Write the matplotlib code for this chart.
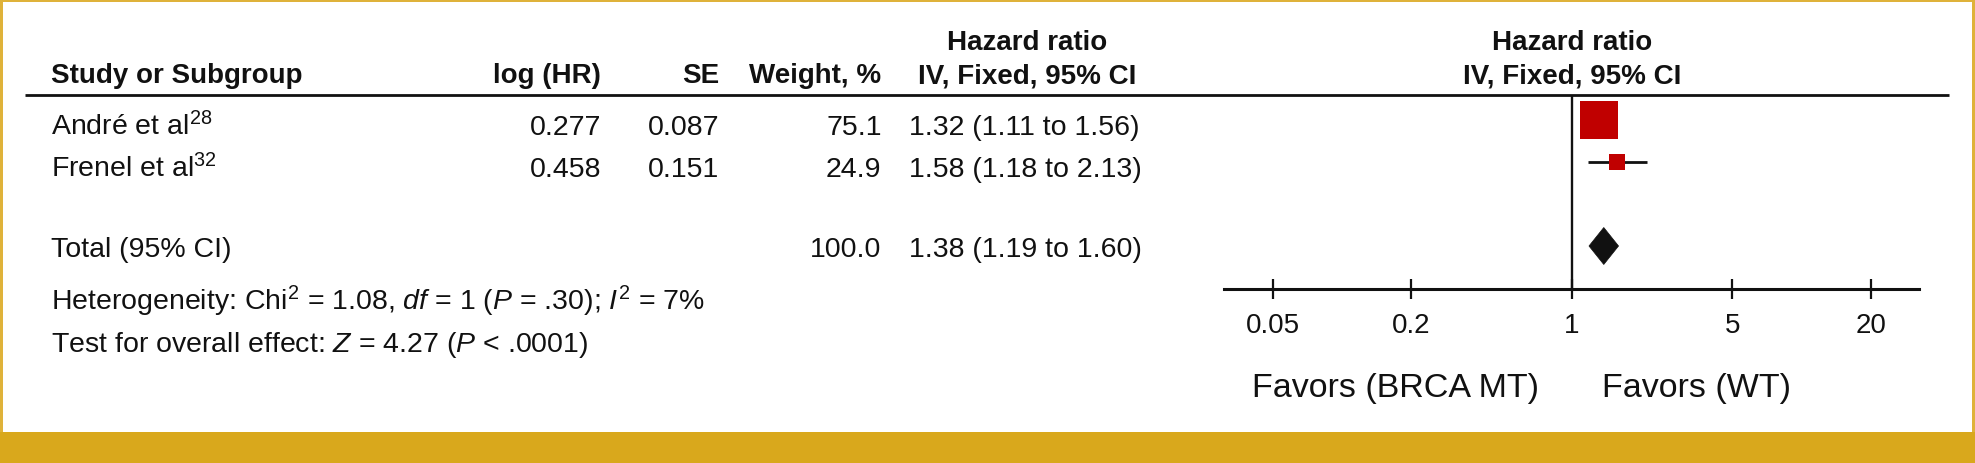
import matplotlib
matplotlib.use("Agg")
import matplotlib.pyplot as plt
from matplotlib.patches import Polygon, Rectangle
from matplotlib.ticker import NullLocator

# data
studies = ["André et al$^{28}$", "Frenel et al$^{32}$"]
log_hr = ["0.277", "0.458"]
se = ["0.087", "0.151"]
weights = [75.1, 24.9]
hr = [1.32, 1.58]
ci_lo = [1.11, 1.18]
ci_hi = [1.56, 2.13]

total_label = "Total (95% CI)"
total_weight = 100.0
total_hr = 1.38
total_lo = 1.19
total_hi = 1.60

heterogeneity = "Heterogeneity: Chi$^2$ = 1.08, $df$ = 1 ($P$ = .30); $I^2$ = 7%"
overall = "Test for overall effect: $Z$ = 4.27 ($P$ < .0001)"

ticks = [0.05, 0.2, 1, 5, 20]
tick_labels = ["0.05", "0.2", "1", "5", "20"]
favors = ["Favors (BRCA MT)", "Favors (WT)"]

plt.rcParams['font.family'] = ['Liberation Sans', 'DejaVu Sans']
plt.rcParams['mathtext.fontset'] = 'custom'
plt.rcParams['mathtext.rm'] = 'Liberation Sans'
plt.rcParams['mathtext.it'] = 'Liberation Sans:italic'
plt.rcParams['mathtext.bf'] = 'Liberation Sans:bold'

W, H = 1975, 464
gold = '#D9A81C'
ink = '#111111'
red = '#C00000'

fig = plt.figure(figsize=(W / 100, H / 100), dpi=100)

# background axes in pixel units for the table part
bg = fig.add_axes([0, 0, 1, 1])
bg.set_xlim(0, W)
bg.set_ylim(H, 0)
bg.axis('off')

bg.add_patch(Rectangle((0, 433), W, H - 433, color=gold, lw=0))
bg.add_patch(Rectangle((0, 0), W, 2.7, color='#DFB23A', lw=0))
bg.add_patch(Rectangle((0, 0), 3, 433, color='#DFB23A', lw=0))
bg.add_patch(Rectangle((W - 3, 0), 3, 433, color='#DFB23A', lw=0))

bg.plot([25, 1949], [95.7, 95.7], color=ink, lw=2.0, solid_capstyle='butt')

# header
hfs = 20
bg.text(51, 83, "Study or Subgroup", ha='left', va='baseline', fontsize=hfs, weight='bold', color=ink)
bg.text(601, 83, "log (HR)", ha='right', va='baseline', fontsize=hfs, weight='bold', color=ink)
bg.text(719, 83, "SE", ha='right', va='baseline', fontsize=hfs, weight='bold', color=ink)
bg.text(881.5, 83, "Weight, %", ha='right', va='baseline', fontsize=hfs, weight='bold', color=ink)
for cx in (1027, 1571.7):
    bg.text(cx, 50, "Hazard ratio", ha='center', va='baseline', fontsize=hfs, weight='bold', color=ink)
    bg.text(cx, 83, "IV, Fixed, 95% CI", ha='center', va='baseline', fontsize=hfs, weight='bold', color=ink)

# rows: row index -> pixel y
row_top, row_step = 121, 42
rows = [0, 1]
total_row = 3


def row_px(r):
    return row_top + row_step * r


fs = 20.5
for i, name in enumerate(studies):
    y = row_px(rows[i]) + 14
    bg.text(51, y, name, ha='left', va='baseline', fontsize=fs, color=ink)
    bg.text(601, y, log_hr[i], ha='right', va='baseline', fontsize=fs, color=ink)
    bg.text(719, y, se[i], ha='right', va='baseline', fontsize=fs, color=ink)
    bg.text(881.5, y, f"{weights[i]:.1f}", ha='right', va='baseline', fontsize=fs, color=ink)
    bg.text(909, y, f"{hr[i]:.2f} ({ci_lo[i]:.2f} to {ci_hi[i]:.2f})", ha='left', va='baseline',
            fontsize=fs, color=ink)

yt = row_px(total_row) + 10
bg.text(51, yt, total_label, ha='left', va='baseline', fontsize=fs, color=ink)
bg.text(881.5, yt, f"{total_weight:.1f}", ha='right', va='baseline', fontsize=fs, color=ink)
bg.text(909, yt, f"{total_hr:.2f} ({total_lo:.2f} to {total_hi:.2f})", ha='left', va='baseline',
        fontsize=fs, color=ink)

bg.text(51, 310, heterogeneity, ha='left', va='baseline', fontsize=fs, color=ink)
bg.text(51, 352, overall, ha='left', va='baseline', fontsize=fs, color=ink)

# forest plot axes
x0, x1, ytop, ybot = 1224, 1919, 95.7, 290
fx = fig.add_axes([x0 / W, 1 - ybot / H, (x1 - x0) / W, (ybot - ytop) / H])
fx.patch.set_alpha(0)
fx.set_xscale('log')
fx.set_xlim(10 ** -1.512, 10 ** 1.511)
fx.set_ylim((ybot - row_top) / row_step, (ytop - row_top) / row_step)
for s in ('top', 'left', 'right'):
    fx.spines[s].set_visible(False)
fx.spines['bottom'].set_linewidth(2.2)
fx.spines['bottom'].set_color(ink)
fx.set_xticks(ticks)
fx.set_xticklabels(tick_labels)
fx.xaxis.set_minor_locator(NullLocator())
fx.tick_params(axis='x', direction='inout', length=15, width=1.6, pad=9, labelsize=20,
               colors=ink)
fx.set_yticks([])

fx.axvline(1, color=ink, lw=1.7)

big = 27.4
for i in range(len(studies)):
    r = rows[i]
    fx.plot([ci_lo[i], ci_hi[i]], [r, r], color=ink, lw=2, solid_capstyle='butt')
    fx.plot(hr[i], r, marker='s', ms=big * (weights[i] / max(weights)) ** 0.73,
            color=red, mew=0)

dh = 0.44
fx.add_patch(Polygon([(total_lo, total_row), (total_hr, total_row - dh),
                      (total_hi, total_row), (total_hr, total_row + dh)],
                     closed=True, facecolor=ink, edgecolor=ink, lw=0.5))

bg.text(1396, 396.7, favors[0], ha='center', va='baseline', fontsize=24.5, color=ink)
bg.text(1697, 396.7, favors[1], ha='center', va='baseline', fontsize=24.5, color=ink)

fig.savefig("out.png", dpi=100)
